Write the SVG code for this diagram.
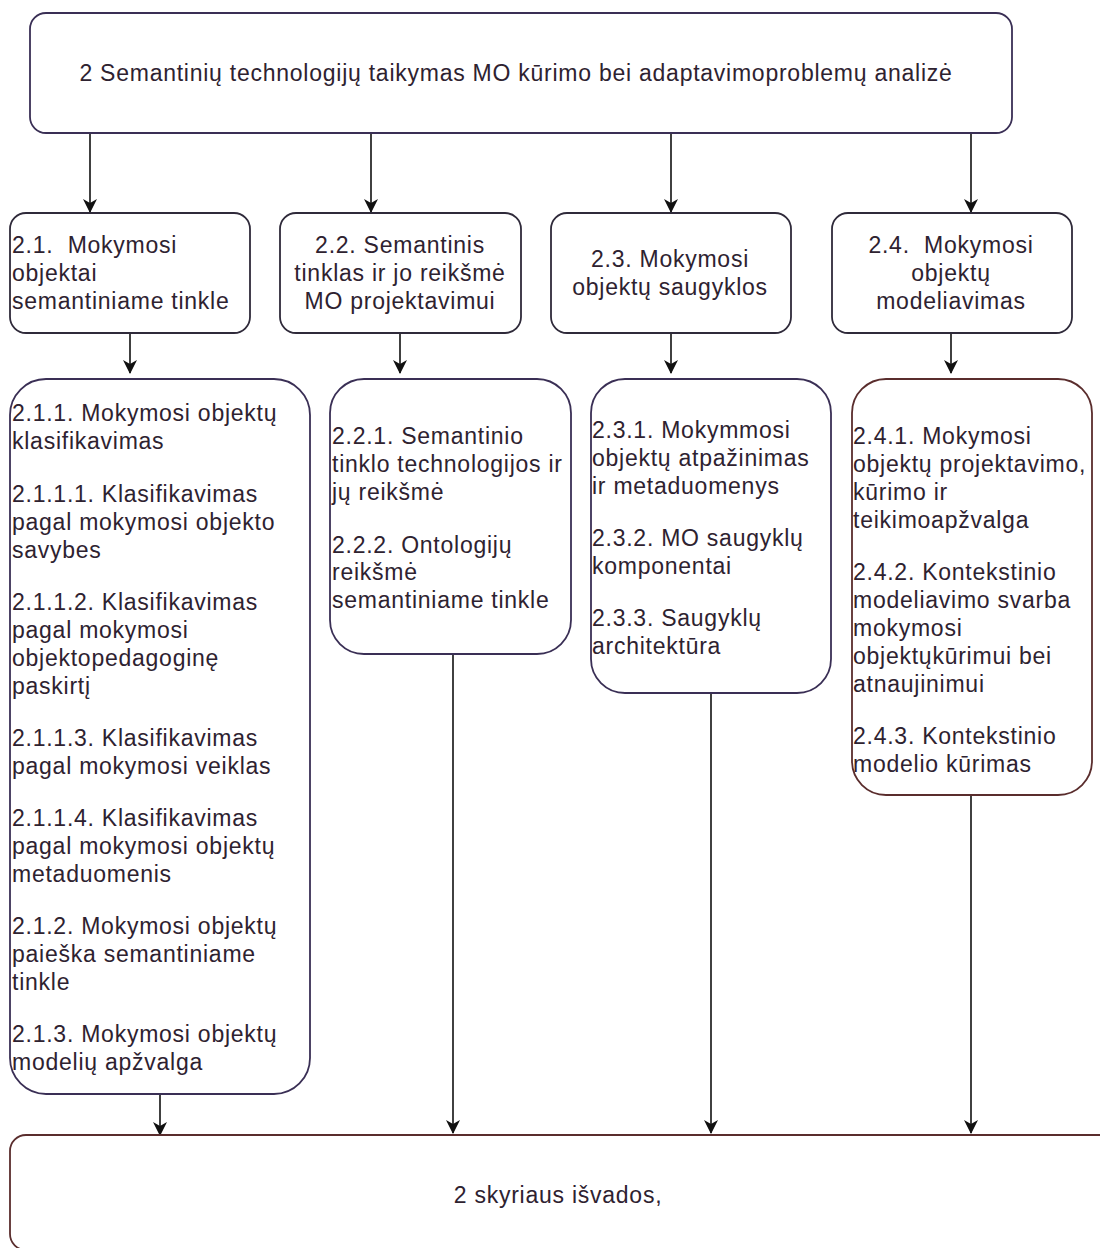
<svg xmlns="http://www.w3.org/2000/svg" width="1100" height="1248" viewBox="0 0 1100 1248">
  <style>
    .box { fill: #ffffff; stroke-width: 1.8; }
    .pu { stroke: #3a2f55; }
    .dk { stroke: #2f2a3a; }
    .br { stroke: #5a2d2d; }
    .t { font-family: "Liberation Sans", Arial, sans-serif; font-size: 23px; fill: #2e2230; letter-spacing: 0.75px; white-space: pre; }
    .c { text-anchor: middle; }
    .edge { stroke: #111111; stroke-width: 1.6; fill: none; marker-end: url(#arrow); }
  </style>
  <defs>
    <marker id="arrow" viewBox="0 0 14 14" refX="13" refY="7" markerWidth="14" markerHeight="14" markerUnits="userSpaceOnUse" orient="auto">
      <path d="M0,0 L14,7 L0,14 L4,7 z" fill="#111111"/>
    </marker>
  </defs>

  <rect width="1100" height="1248" fill="#ffffff"/>

  <!-- connectors -->
  <g id="connectors">
    <line class="edge" x1="90" y1="133" x2="90" y2="212"/>
    <line class="edge" x1="371" y1="133" x2="371" y2="212"/>
    <line class="edge" x1="671" y1="133" x2="671" y2="212"/>
    <line class="edge" x1="971" y1="133" x2="971" y2="212"/>

    <line class="edge" x1="130" y1="333" x2="130" y2="373"/>
    <line class="edge" x1="400" y1="333" x2="400" y2="373"/>
    <line class="edge" x1="671" y1="333" x2="671" y2="373"/>
    <line class="edge" x1="951" y1="333" x2="951" y2="373"/>

    <line class="edge" x1="160" y1="1094" x2="160" y2="1135"/>
    <line class="edge" x1="453" y1="654" x2="453" y2="1133"/>
    <line class="edge" x1="711" y1="693" x2="711" y2="1133"/>
    <line class="edge" x1="971" y1="795" x2="971" y2="1133"/>
  </g>

  <!-- chapter heading -->
  <g id="n-2">
    <rect class="box pu" x="30" y="13" width="982" height="120" rx="16"/>
    <text class="t c" x="516" y="81">2 Semantinių technologijų taikymas MO kūrimo bei adaptavimoproblemų analizė</text>
  </g>

  <!-- sections -->
  <g id="n-2-1">
    <rect class="box dk" x="10" y="213" width="240" height="120" rx="16"/>
    <text class="t" x="12" y="253" xml:space="preserve">2.1.  Mokymosi</text>
    <text class="t" x="12" y="281">objektai</text>
    <text class="t" x="12" y="309">semantiniame tinkle</text>
  </g>
  <g id="n-2-2">
    <rect class="box dk" x="280" y="213" width="241" height="120" rx="16"/>
    <text class="t c" x="400" y="253">2.2. Semantinis</text>
    <text class="t c" x="400" y="281">tinklas ir jo reikšmė</text>
    <text class="t c" x="400" y="309">MO projektavimui</text>
  </g>
  <g id="n-2-3">
    <rect class="box dk" x="551" y="213" width="240" height="120" rx="16"/>
    <text class="t c" x="670" y="267">2.3. Mokymosi</text>
    <text class="t c" x="670" y="295">objektų saugyklos</text>
  </g>
  <g id="n-2-4">
    <rect class="box dk" x="832" y="213" width="240" height="120" rx="16"/>
    <text class="t c" x="951" y="253" xml:space="preserve">2.4.  Mokymosi</text>
    <text class="t c" x="951" y="281">objektų</text>
    <text class="t c" x="951" y="309">modeliavimas</text>
  </g>

  <!-- subsections -->
  <g id="n-2-1-x">
    <rect class="box pu" x="10" y="379" width="300" height="715" rx="36"/>
    <text class="t" x="12" y="421">2.1.1. Mokymosi objektų</text>
    <text class="t" x="12" y="449">klasifikavimas</text>
    <text class="t" x="12" y="502">2.1.1.1. Klasifikavimas</text>
    <text class="t" x="12" y="530">pagal mokymosi objekto</text>
    <text class="t" x="12" y="558">savybes</text>
    <text class="t" x="12" y="610">2.1.1.2. Klasifikavimas</text>
    <text class="t" x="12" y="638">pagal mokymosi</text>
    <text class="t" x="12" y="666">objektopedagoginę</text>
    <text class="t" x="12" y="694">paskirtį</text>
    <text class="t" x="12" y="746">2.1.1.3. Klasifikavimas</text>
    <text class="t" x="12" y="774">pagal mokymosi veiklas</text>
    <text class="t" x="12" y="826">2.1.1.4. Klasifikavimas</text>
    <text class="t" x="12" y="854">pagal mokymosi objektų</text>
    <text class="t" x="12" y="882">metaduomenis</text>
    <text class="t" x="12" y="934">2.1.2. Mokymosi objektų</text>
    <text class="t" x="12" y="962">paieška semantiniame</text>
    <text class="t" x="12" y="990">tinkle</text>
    <text class="t" x="12" y="1042">2.1.3. Mokymosi objektų</text>
    <text class="t" x="12" y="1070">modelių apžvalga</text>
  </g>
  <g id="n-2-2-x">
    <rect class="box pu" x="330" y="379" width="241" height="275" rx="34"/>
    <text class="t" x="332" y="444">2.2.1. Semantinio</text>
    <text class="t" x="332" y="472">tinklo technologijos ir</text>
    <text class="t" x="332" y="500">jų reikšmė</text>
    <text class="t" x="332" y="553">2.2.2. Ontologijų</text>
    <text class="t" x="332" y="580">reikšmė</text>
    <text class="t" x="332" y="608">semantiniame tinkle</text>
  </g>
  <g id="n-2-3-x">
    <rect class="box pu" x="591" y="379" width="240" height="314" rx="34"/>
    <text class="t" x="592" y="438">2.3.1. Mokymmosi</text>
    <text class="t" x="592" y="466">objektų atpažinimas</text>
    <text class="t" x="592" y="494">ir metaduomenys</text>
    <text class="t" x="592" y="546">2.3.2. MO saugyklų</text>
    <text class="t" x="592" y="574">komponentai</text>
    <text class="t" x="592" y="626">2.3.3. Saugyklų</text>
    <text class="t" x="592" y="654">architektūra</text>
  </g>
  <g id="n-2-4-x">
    <rect class="box br" x="852" y="379" width="240" height="416" rx="34"/>
    <text class="t" x="853" y="444">2.4.1. Mokymosi</text>
    <text class="t" x="853" y="472">objektų projektavimo,</text>
    <text class="t" x="853" y="500">kūrimo ir</text>
    <text class="t" x="853" y="528">teikimoapžvalga</text>
    <text class="t" x="853" y="580">2.4.2. Kontekstinio</text>
    <text class="t" x="853" y="608">modeliavimo svarba</text>
    <text class="t" x="853" y="636">mokymosi</text>
    <text class="t" x="853" y="664">objektųkūrimui bei</text>
    <text class="t" x="853" y="692">atnaujinimui</text>
    <text class="t" x="853" y="744">2.4.3. Kontekstinio</text>
    <text class="t" x="853" y="772">modelio kūrimas</text>
  </g>

  <!-- conclusions -->
  <g id="n-2-end">
    <rect class="box br" x="10" y="1135" width="1120" height="115" rx="16"/>
    <text class="t c" x="558" y="1203">2 skyriaus išvados,</text>
  </g>
</svg>
